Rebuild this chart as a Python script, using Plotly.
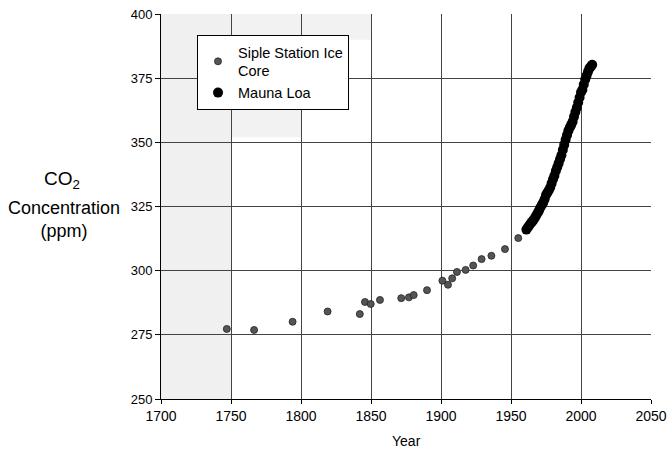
import plotly.graph_objects as go

# Siple Station ice core
siple_year = [1747, 1766.5, 1794, 1819, 1842, 1845.7, 1849.8, 1856.4, 1871.6, 1877.1,
              1880.5, 1890, 1901, 1905, 1908, 1911.4, 1917.6, 1923, 1929, 1936,
              1945.7, 1955.2]
siple_ppm = [277.3, 276.9, 280.1, 284.1, 283.1, 287.8, 287.0, 288.6, 289.3, 289.6,
             290.5, 292.4, 296.1, 294.5, 297.0, 299.5, 300.3, 302.0, 304.5, 305.8,
             308.4, 312.7]

# Mauna Loa
ml_year = list(range(1961, 2009))
ml_ppm = [316.0, 316.8, 317.6, 318.4, 319.0, 319.7, 320.5, 321.5, 322.5, 323.4,
          324.6, 325.6, 326.5, 327.8, 329.5, 330.4, 331.3, 332.4, 334.0, 335.6,
          337.0, 338.8, 340.3, 341.8, 343.4, 345.0, 347.0, 349.0, 351.0, 352.8,
          354.5, 355.8, 356.8, 358.0, 360.0, 361.8, 363.5, 365.5, 367.5, 369.5,
          370.5, 372.5, 374.5, 376.0, 377.5, 378.8, 379.5, 380.2]

x_ticks = [1700, 1750, 1800, 1850, 1900, 1950, 2000, 2050]
y_ticks = [250, 275, 300, 325, 350, 375, 400]

FONT = "Liberation Sans, Arial, sans-serif"

fig = go.Figure()
fig.add_trace(go.Scatter(
    x=siple_year, y=siple_ppm, mode="markers",
    name="Siple Station Ice<br>Core",
    marker=dict(symbol="circle", size=7, color="#555555",
                line=dict(width=0.8, color="#222222")),
))
fig.add_trace(go.Scatter(
    x=ml_year, y=ml_ppm, mode="markers", name="Mauna Loa",
    marker=dict(symbol="circle", size=10, color="black"),
))

# light speckled (scanned) texture on the left
fig.add_shape(type="rect", x0=1700, x1=1750, y0=250, y1=400, xref="x", yref="y",
              fillcolor="rgba(0,0,0,0.06)", line_width=0, layer="below")
fig.add_shape(type="rect", x0=1750, x1=1800, y0=352, y1=400, xref="x", yref="y",
              fillcolor="rgba(0,0,0,0.05)", line_width=0, layer="below")
fig.add_shape(type="rect", x0=1800, x1=1850, y0=390, y1=400, xref="x", yref="y",
              fillcolor="rgba(0,0,0,0.05)", line_width=0, layer="below")

fig.update_xaxes(
    range=[1700, 2050], tickvals=x_ticks, ticktext=[str(v) for v in x_ticks],
    showgrid=True, gridcolor="#444444", gridwidth=1,
    showline=True, linecolor="black", linewidth=1,
    ticks="outside", ticklen=4, tickcolor="black", automargin=False,
    tickfont=dict(family=FONT, size=14, color="black"), zeroline=False,
)
fig.update_yaxes(
    range=[250, 400], tickvals=y_ticks, ticktext=[str(v) for v in y_ticks],
    showgrid=True, gridcolor="#444444", gridwidth=1,
    showline=True, linecolor="black", linewidth=1,
    ticks="outside", ticklen=5, tickcolor="black", automargin=False,
    tickfont=dict(family=FONT, size=13, color="black"), zeroline=False,
)

fig.add_annotation(text="CO<sub>2</sub>", xref="paper", yref="paper",
                   x=-0.202, y=0.569, xanchor="center", yanchor="middle",
                   showarrow=False, font=dict(family=FONT, size=19, color="black"))
fig.add_annotation(text="Concentration<br>(ppm)", xref="paper", yref="paper",
                   x=-0.197, y=0.466, xanchor="center", yanchor="middle",
                   showarrow=False, font=dict(family=FONT, size=18, color="black"))
fig.add_annotation(text="Year", xref="paper", yref="paper",
                   x=0.5, y=-0.108, xanchor="center", yanchor="middle",
                   showarrow=False, font=dict(family=FONT, size=14, color="black"))

fig.update_layout(
    width=669, height=456,
    margin=dict(l=161, r=18, t=14, b=57, autoexpand=False),
    paper_bgcolor="white", plot_bgcolor="white",
    font=dict(family=FONT, color="black"),
    showlegend=True,
    legend=dict(x=0.0735, y=0.9455, xanchor="left", yanchor="top",
                bgcolor="white", bordercolor="black", borderwidth=1,
                font=dict(family=FONT, size=14.5, color="black"),
                itemwidth=30, tracegroupgap=4),
)

fig.write_html("out.html", config={"displayModeBar": False},
               post_script="document.body.style.margin='0';document.body.style.overflow='hidden';")
